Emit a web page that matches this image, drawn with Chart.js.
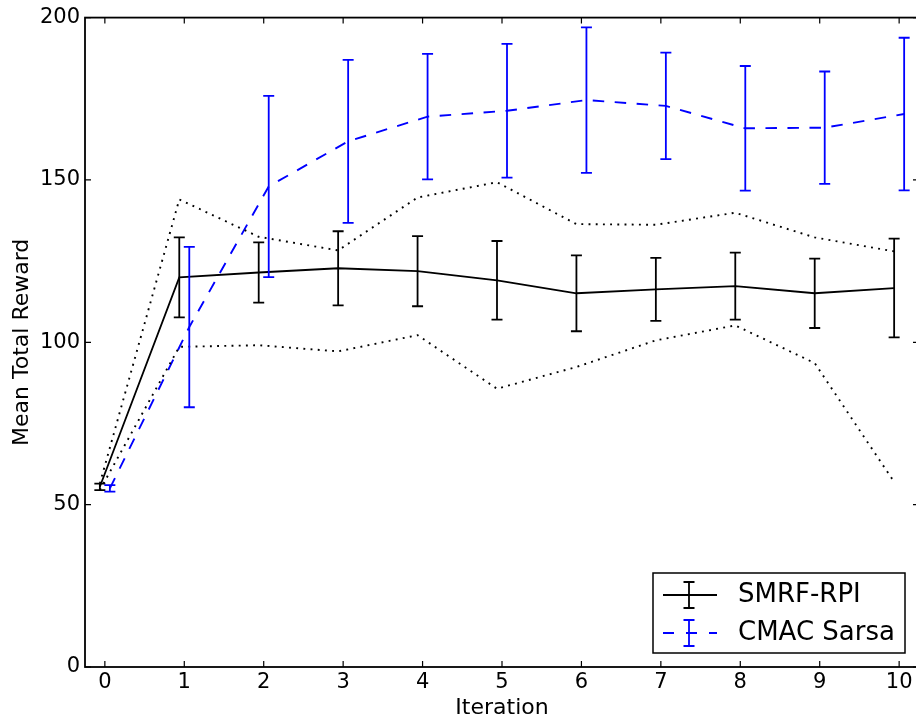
<!DOCTYPE html>
<html><head><meta charset="utf-8">
<script src="https://cdn.jsdelivr.net/npm/chart.js@4/dist/chart.umd.min.js"></script>
<style>
html,body{margin:0;padding:0;background:#fff;overflow:hidden;width:916px;height:719px;}
#wrap{width:930px;height:719px;}
canvas{display:block;}
</style></head><body>
<div id="wrap"><canvas id="c" width="930" height="719"></canvas></div>
<script>
// ---- data ----
const iterations = [0,1,2,3,4,5,6,7,8,9,10];
const xTickLabels = ['0','1','2','3','4','5','6','7','8','9','10'];
const yTickValues = [0,50,100,150,200];
const smrfMean = [55.5,120.0,121.5,122.8,121.9,119.1,115.1,116.3,117.3,115.1,116.7];
const smrfErr  = [1.0,12.3,9.3,11.4,10.8,12.1,11.7,9.7,10.3,10.7,15.2];
const smrfMax  = [56.5,144.0,132.5,128.3,144.6,149.3,136.4,136.2,139.9,132.3,128.0];
const smrfMin  = [54.5,98.6,99.1,97.2,102.2,85.7,92.4,100.6,105.2,93.6,57.0];
const cmacMean = [55.0,104.7,148.0,161.9,169.5,171.3,174.6,172.8,165.9,166.1,170.3];
const cmacErr  = [1.0,24.7,27.9,25.1,19.3,20.6,22.4,16.4,19.2,17.3,23.5];

// ---- layout / style ----
const OFF = 0.063;
const FONT = "'DejaVu Sans', sans-serif";
const BLACK = '#000000', BLUE = '#0000ff';

const errorBarPlugin = {
  id: 'errorBars',
  afterDatasetsDraw(chart) {
    const {ctx, scales: {x, y}} = chart;
    chart.data.datasets.forEach(ds => {
      if (!ds.errors) return;
      ctx.save();
      ctx.strokeStyle = ds.borderColor; ctx.lineWidth = 1.8; ctx.setLineDash([]);
      ds.data.forEach((p, i) => {
        const px = x.getPixelForValue(p.x);
        const top = y.getPixelForValue(p.y + ds.errors[i]);
        const bot = y.getPixelForValue(p.y - ds.errors[i]);
        ctx.beginPath();
        ctx.moveTo(px, top); ctx.lineTo(px, bot);
        ctx.moveTo(px - 5.5, top); ctx.lineTo(px + 5.5, top);
        ctx.moveTo(px - 5.5, bot); ctx.lineTo(px + 5.5, bot);
        ctx.stroke();
      });
      ctx.restore();
    });
  }
};

const framePlugin = {
  id: 'frame',
  afterDraw(chart) {
    const {ctx, chartArea: ca, scales: {x, y}} = chart;
    ctx.save();
    ctx.strokeStyle = '#000'; ctx.setLineDash([]);
    // inward ticks
    ctx.lineWidth = 1.2;
    ctx.beginPath();
    x.ticks.forEach(t => {
      const px = x.getPixelForValue(t.value);
      ctx.moveTo(px, ca.bottom); ctx.lineTo(px, ca.bottom - 6);
      ctx.moveTo(px, ca.top); ctx.lineTo(px, ca.top + 6);
    });
    y.ticks.forEach(t => {
      const py = y.getPixelForValue(t.value);
      ctx.moveTo(ca.left, py); ctx.lineTo(ca.left + 6, py);
      ctx.moveTo(ca.right, py); ctx.lineTo(ca.right - 6, py);
    });
    ctx.stroke();
    // spines
    ctx.lineWidth = 1.8;
    ctx.strokeRect(ca.left, ca.top, ca.right - ca.left, ca.bottom - ca.top);

    // legend
    const w = 252, h = 80;
    const x0 = ca.right - 14 - w, y0 = ca.bottom - 14 - h;
    ctx.fillStyle = '#fff';
    ctx.fillRect(x0, y0, w, h);
    ctx.lineWidth = 1.5;
    ctx.strokeRect(x0, y0, w, h);
    const entries = chart.data.datasets.filter(d => d.errors);
    const rowsY = [y0 + 22, y0 + 60];
    entries.forEach((ds, k) => {
      const ry = rowsY[k];
      ctx.strokeStyle = ds.borderColor;
      ctx.lineWidth = 1.8;
      ctx.setLineDash(ds.borderDash ? [11, 12] : []);
      ctx.beginPath(); ctx.moveTo(x0 + 10, ry); ctx.lineTo(x0 + 64, ry); ctx.stroke();
      ctx.setLineDash([]);
      const ex = x0 + 36;
      ctx.beginPath();
      ctx.moveTo(ex, ry - 13); ctx.lineTo(ex, ry + 13);
      ctx.moveTo(ex - 5.5, ry - 13); ctx.lineTo(ex + 5.5, ry - 13);
      ctx.moveTo(ex - 5.5, ry + 13); ctx.lineTo(ex + 5.5, ry + 13);
      ctx.stroke();
      ctx.fillStyle = '#000';
      ctx.font = "26px " + FONT;
      ctx.textAlign = 'left'; ctx.textBaseline = 'middle';
      ctx.fillText(ds.label, x0 + 85, ry);
    });
    ctx.restore();
  }
};

const pts = (arr, dx) => iterations.map((v, i) => ({x: v + dx, y: arr[i]}));

new Chart(document.getElementById('c'), {
  type: 'line',
  data: {
    datasets: [
      {label: 'SMRF-RPI', data: pts(smrfMean, -OFF), errors: smrfErr,
       borderColor: BLACK, borderWidth: 1.8, pointRadius: 0, tension: 0, fill: false},
      {label: 'SMRF-RPI max', data: pts(smrfMax, -OFF),
       borderColor: BLACK, borderWidth: 1.9, borderDash: [1.9, 5.3], borderCapStyle: 'butt', pointRadius: 0, tension: 0, fill: false},
      {label: 'SMRF-RPI min', data: pts(smrfMin, -OFF),
       borderColor: BLACK, borderWidth: 1.9, borderDash: [1.9, 5.3], borderCapStyle: 'butt', pointRadius: 0, tension: 0, fill: false},
      {label: 'CMAC Sarsa', data: pts(cmacMean, OFF), errors: cmacErr,
       borderColor: BLUE, borderWidth: 1.9, borderDash: [11.5, 10.5], pointRadius: 0, tension: 0, fill: false}
    ]
  },
  options: {
    responsive: false, animation: false, devicePixelRatio: 1,
    layout: {padding: {left: 0, top: 17, right: 11, bottom: 0}},
    plugins: {legend: {display: false}, tooltip: {enabled: false}},
    scales: {
      x: {
        type: 'linear', min: -0.25, max: 10.25,
        grid: {display: false, drawTicks: false},
        border: {display: false},
        afterBuildTicks: s => { s.ticks = iterations.map(v => ({value: v})); },
        afterFit: s => { s.height = 52; },
        ticks: {autoSkip: false, maxRotation: 0, padding: 3, color: '#000',
                font: {family: FONT, size: 21},
                callback: (v, i) => xTickLabels[i]},
        title: {display: true, text: 'Iteration', color: '#000',
                font: {family: FONT, size: 22, lineHeight: 1}, padding: {top: 0, bottom: 0}}
      },
      y: {
        min: 0, max: 200,
        grid: {display: false, drawTicks: false},
        border: {display: false},
        afterBuildTicks: s => { s.ticks = yTickValues.map(v => ({value: v})); },
        afterFit: s => { s.width = 85; },
        ticks: {padding: 5, color: '#000', font: {family: FONT, size: 21}},
        title: {display: true, text: 'Mean Total Reward', color: '#000',
                font: {family: FONT, size: 22, lineHeight: 1.2}, padding: {top: 9, bottom: 0}}
      }
    }
  },
  plugins: [errorBarPlugin, framePlugin]
});
</script>
</body></html>
